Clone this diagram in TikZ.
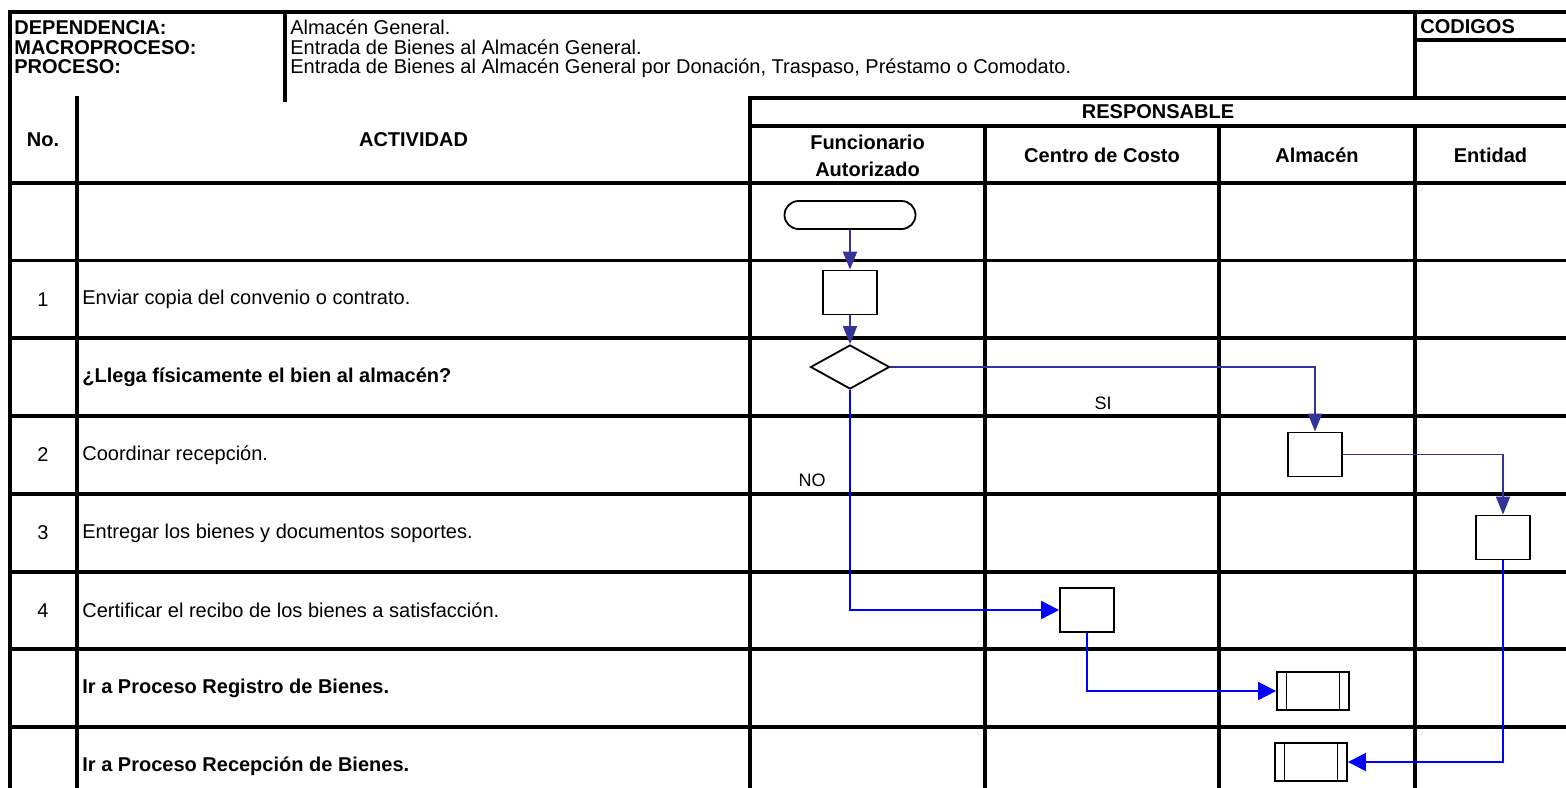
\documentclass[tikz,border=0pt]{standalone}
\usepackage{fontspec}
\setmainfont{Liberation Sans}
\usetikzlibrary{
positioning,%
calc,%
arrows.meta,%
shapes.geometric,%
shapes.misc
}
\definecolor{flowdark}{HTML}{333399}
\definecolor{flowblue}{HTML}{0000FF}
\tikzset{
    tline/.style={line width=1.8pt, line cap=rect},
    lbl/.style={font=\bfseries, inner sep=0pt},
    txt/.style={inner sep=0pt, anchor=west},
    act/.style={draw, line width=0.9pt, minimum width=27pt, minimum height=22pt, inner sep=0pt},
    term/.style={draw, rounded rectangle, line width=0.9pt, minimum width=65.5pt, minimum height=14pt, inner sep=0pt},
    dec/.style={draw, diamond, aspect=1.8, line width=0.9pt, minimum width=39.5pt, minimum height=22pt, inner sep=0pt},
    subp/.style={act, minimum width=36pt, minimum height=19pt,
        path picture={
            \draw[line width=0.9pt] ([xshift=4.75pt]path picture bounding box.north west) -- ([xshift=4.75pt]path picture bounding box.south west);
            \draw[line width=0.9pt] ([xshift=-4.75pt]path picture bounding box.north east) -- ([xshift=-4.75pt]path picture bounding box.south east);
        }},
    flowd/.style={-{Triangle[length=9pt, width=7pt]}, draw=flowdark, line width=0.9pt},
    flowb/.style={-{Triangle[length=9pt, width=9pt]}, draw=flowblue, line width=0.9pt},
    yesno/.style={font=\small, inner sep=0pt}
}

\begin{document}
\begin{tikzpicture}[x=0.5pt, y=-0.5pt]
    \useasboundingbox (0,0) rectangle (1566,787);
    \clip (0,0) rectangle (1566,787);
    % encabezado
    \draw[tline] (10,12) -- (1570,12);
    \draw[tline] (10,12) -- (10,810);
    \draw[tline] (285,12) -- (285,100);
    \draw[tline] (1415,12) -- (1415,98);
    \draw[tline] (1415,40) -- (1570,40);
    \draw[tline] (750,98) -- (1570,98);
    \draw[tline] (750,126) -- (1570,126);
    \draw[tline] (77,98) -- (77,810);
    \draw[tline] (750,98) -- (750,810);
    \foreach \x in {985,1219,1415}
        \draw[tline] (\x,126) -- (\x,810);
    \foreach \y in {183,260.5,338,416,494,572,649,727}
        \draw[tline] (10,\y) -- (1570,\y);

    \node[lbl, anchor=base west] (dep) at (14,34) {DEPENDENCIA:};
    \node[lbl, anchor=base west] (mac) at (14,54) {MACROPROCESO:};
    \node[lbl, anchor=base west] (pro) at (14,73) {PROCESO:};
    \node[txt, anchor=base west] (depv) at (290,34) {Almacén General.};
    \node[txt, anchor=base west] (macv) at (290,54) {Entrada de Bienes al Almacén General.};
    \node[txt, anchor=base west] (prov) at (290,73) {Entrada de Bienes al Almacén General por Donación, Traspaso, Préstamo o Comodato.};
    \node[lbl, anchor=base west] (cod) at (1420,33) {CODIGOS};
    \node[lbl] (resp) at (1158,112) {RESPONSABLE};
    \node[lbl] (num) at (43,140) {No.};
    \node[lbl] (actv) at (413.5,140) {ACTIVIDAD};
    \node[lbl, align=center] (func) at (867.5,156) {Funcionario\\[1.5pt]Autorizado};
    \node[lbl] (ccos) at (1102,155) {Centro de Costo};
    \node[lbl] (alm) at (1317,155) {Almacén};
    \node[lbl] (ent) at (1490.5,155) {Entidad};

    % actividades
    \node (n1) at (43,299.25) {1};
    \node (n2) at (43,455) {2};
    \node (n3) at (43,533) {3};
    \node (n4) at (43,610.5) {4};
    \node[txt] (t1) at (82,299.25) {Enviar copia del convenio o contrato.};
    \node[txt, font=\bfseries] (q1) at (82,377) {¿Llega físicamente el bien al almacén?};
    \node[txt] (t2) at (82,455) {Coordinar recepción.};
    \node[txt] (t3) at (82,533) {Entregar los bienes y documentos soportes.};
    \node[txt] (t4) at (82,610.5) {Certificar el recibo de los bienes a satisfacción.};
    \node[txt, font=\bfseries] (g1) at (82,688) {Ir a Proceso Registro de Bienes.};
    \node[txt, font=\bfseries] (g2) at (82,766) {Ir a Proceso Recepción de Bienes.};

    % diagrama
    \node[term] (st) at (850,215) {};
    \node[act] (a1) at (850,292.5) {};
    \node[dec] (d1) at (850,367) {};
    \node[act] (a2) at (1315,454.5) {};
    \node[act] (a3) at (1503,537.5) {};
    \node[act] (a4) at (1087,610) {};
    \node[subp] (p1) at (1313,691) {};
    \node[subp] (p2) at (1311,762) {};
    \node[yesno] (si) at (1103,403) {SI};
    \node[yesno] (no) at (812,480) {NO};

    \draw[flowd] (st) -- (a1);
    \draw[flowd] (a1) -- (d1);
    \draw[flowd] (d1.east) -| (a2.north);
    \draw[flowd] (a2.east) -| (a3.north);
    \draw[flowb] (d1.south) |- (a4.west);
    \draw[flowb] (a4.south) |- (p1.west);
    \draw[flowb] (a3.south) |- (p2.east);
\end{tikzpicture}
\end{document}
